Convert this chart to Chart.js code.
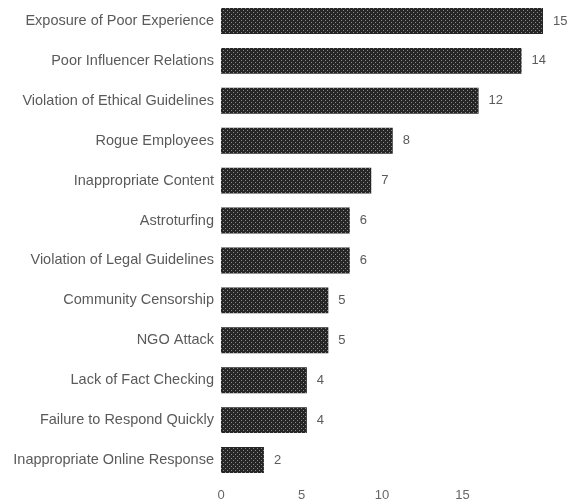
<!DOCTYPE html>
<html>
<head>
<meta charset="utf-8">
<script src="https://cdn.jsdelivr.net/npm/chart.js@4/dist/chart.umd.min.js"></script>
<style>
html,body{margin:0;padding:0;background:#fff;}
#wrap{width:570px;height:502px;position:relative;}
</style>
</head>
<body>
<div id="wrap"><canvas id="c" width="570" height="502"></canvas></div>
<script>
const categories = [
  "Exposure of Poor Experience",
  "Poor Influencer Relations",
  "Violation of Ethical Guidelines",
  "Rogue Employees",
  "Inappropriate Content",
  "Astroturfing",
  "Violation of Legal Guidelines",
  "Community Censorship",
  "NGO Attack",
  "Lack of Fact Checking",
  "Failure to Respond Quickly",
  "Inappropriate Online Response"
];
const counts = [15, 14, 12, 8, 7, 6, 6, 5, 5, 4, 4, 2];
const axisTickLabels = [0, 5, 10, 15];

function makePattern() {
  const c = document.createElement('canvas');
  c.width = 4; c.height = 4;
  const g = c.getContext('2d');
  g.fillStyle = '#262626';
  g.fillRect(0, 0, 4, 4);
  g.fillStyle = '#8a8a8a';
  g.fillRect(1, 0, 1, 1);
  g.fillRect(3, 2, 1, 1);
  return g.createPattern(c, 'repeat');
}

const valueLabels = {
  id: 'valueLabels',
  afterDatasetsDraw(chart) {
    const ctx = chart.ctx;
    const meta = chart.getDatasetMeta(0);
    ctx.save();
    ctx.font = '13px "Liberation Sans", Arial, sans-serif';
    ctx.fillStyle = '#5a5a5a';
    ctx.textAlign = 'left';
    ctx.textBaseline = 'middle';
    meta.data.forEach((bar, i) => {
      ctx.fillText(String(counts[i]), bar.x + 10, bar.y);
    });
    ctx.restore();
  }
};

new Chart(document.getElementById('c'), {
  type: 'bar',
  data: {
    labels: categories,
    datasets: [{
      data: counts,
      backgroundColor: makePattern(),
      borderWidth: 0,
      barPercentage: 0.65,
      categoryPercentage: 1.0,
      xAxisID: 'x',
      yAxisID: 'y'
    }]
  },
  options: {
    indexAxis: 'y',
    responsive: false,
    animation: false,
    layout: { padding: { top: 1, right: 27, left: 0, bottom: 0 } },
    plugins: { legend: { display: false }, tooltip: { enabled: false } },
    scales: {
      x: { display: false, min: 0, max: 15 },
      x2: {
        type: 'linear',
        position: 'bottom',
        min: 0,
        max: 20,
        border: { display: false },
        grid: { display: false, drawTicks: false },
        ticks: {
          stepSize: 5,
          padding: 8,
          color: '#666',
          font: { family: '"Liberation Sans", Arial, sans-serif', size: 13 },
          callback: v => axisTickLabels.includes(v) ? String(v) : ''
        },
        afterFit: s => { s.height = 22; s.paddingLeft = 0; s.paddingRight = 0; }
      },
      y: {
        border: { display: false },
        grid: { display: false, drawTicks: false },
        ticks: {
          padding: 7,
          color: '#5a5a5a',
          font: { family: '"Liberation Sans", Arial, sans-serif', size: 14.5 }
        },
        afterFit: s => { s.width = 221; s.paddingTop = 0; s.paddingBottom = 0; }
      }
    }
  },
  plugins: [valueLabels]
});
</script>
</body>
</html>
